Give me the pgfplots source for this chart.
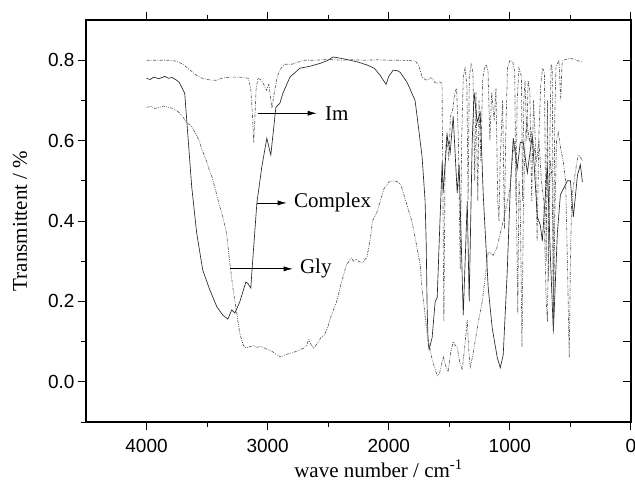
\documentclass[border=0pt]{standalone}
\usepackage{pgfplots}
\pgfplotsset{compat=1.18}
\usepackage{fontspec}
\setmainfont{Liberation Serif}
\setsansfont{Liberation Sans}
\usetikzlibrary{arrows.meta}
\begin{document}
\begin{tikzpicture}
\useasboundingbox (-86pt,-61pt) rectangle (549pt,422pt);
\pgfplotsset{
  imstyle/.style={black!65, line width=0.65pt, dash pattern=on 3pt off 1.4pt on 0.8pt off 1.4pt},
  glystyle/.style={black!65, line width=0.65pt, dash pattern=on 3pt off 1.2pt on 0.8pt off 1.2pt on 0.8pt off 1.2pt},
  cxstyle/.style={black!85, line width=0.65pt},
}
\begin{axis}[
  at={(0pt,0pt)}, anchor=south west,
  scale only axis, width=545pt, height=402pt,
  xmin=0, xmax=4500, x dir=reverse,
  ymin=-0.1, ymax=0.9,
  xtick={0,1000,2000,3000,4000},
  minor xtick={500,1500,2500,3500},
  ytick={0,0.2,0.4,0.6,0.8},
  minor ytick={-0.1,0.1,0.3,0.5,0.7},
  xtick pos=both, ytick pos=left,
  tick align=outside,
  major tick length=8pt, minor tick length=5pt,
  every tick/.style={black, line width=1pt},
  axis line style={line width=1.1pt},
  /pgf/number format/assume math mode=true,
  /pgf/number format/1000 sep={},
  yticklabel style={/pgf/number format/fixed, /pgf/number format/fixed zerofill, /pgf/number format/precision=1},
  xticklabel style={yshift=-6pt},
  tick label style={font=\fontsize{19}{22}\selectfont\sffamily},
  xlabel={wave number / cm\textsuperscript{-1}},
  ylabel={Transmittent / \%},
  label style={font=\fontsize{21}{25}\selectfont},
  xlabel style={xshift=20pt, yshift=0pt},
  ylabel style={yshift=14pt},
  clip=true,
]
% Im
\addplot[imstyle] coordinates {
(4000,0.800)(3900,0.800)(3800,0.800)(3750,0.797)(3700,0.790)(3650,0.778)(3600,0.765)(3550,0.756)(3500,0.752)(3450,0.750)(3420,0.750)(3380,0.755)(3340,0.757)(3300,0.758)(3250,0.758)(3200,0.757)(3160,0.755)(3140,0.730)(3125,0.660)(3115,0.595)(3105,0.660)(3095,0.730)(3080,0.755)(3060,0.752)(3040,0.745)(3010,0.725)(2990,0.740)(2965,0.680)(2945,0.720)(2920,0.760)(2890,0.780)(2860,0.790)(2800,0.790)(2750,0.795)(2700,0.800)(2600,0.800)(2500,0.802)(2400,0.800)(2300,0.801)(2200,0.800)(2100,0.801)(2000,0.800)(1900,0.800)(1820,0.799)(1780,0.798)
(1750,0.785)(1725,0.758)(1700,0.752)(1683,0.750)(1660,0.756)(1640,0.755)(1620,0.745)(1600,0.742)(1580,0.746)(1560,0.742)(1545,0.150)(1535,0.550)(1520,0.620)(1505,0.550)(1490,0.660)(1470,0.680)(1455,0.720)(1440,0.730)(1425,0.600)(1410,0.280)(1398,0.600)(1385,0.760)(1370,0.780)(1355,0.740)(1345,0.450)(1335,0.760)(1320,0.790)(1305,0.770)(1290,0.500)(1280,0.720)(1265,0.450)(1255,0.700)(1240,0.550)(1225,0.750)(1210,0.780)(1195,0.790)(1180,0.770)(1165,0.600)(1150,0.720)(1130,0.650)(1115,0.730)(1100,0.450)(1090,0.400)(1080,0.550)(1060,0.700)(1045,0.380)(1035,0.600)(1020,0.780)(1000,0.800)(975,0.795)(960,0.770)(950,0.450)(940,0.700)(925,0.780)(905,0.760)(895,0.450)(885,0.700)(875,0.750)(860,0.600)(850,0.750)(835,0.720)(820,0.450)(805,0.700)(790,0.600)(775,0.350)(760,0.620)(745,0.740)(730,0.780)(715,0.770)(700,0.300)(690,0.700)(680,0.250)(670,0.600)(660,0.790)(650,0.780)(640,0.150)(630,0.650)(620,0.780)(610,0.790)(595,0.800)(580,0.700)(570,0.790)(560,0.800)(500,0.805)(450,0.800)(400,0.795)
};
% Complex
\addplot[cxstyle] coordinates {
(4000,0.755)(3970,0.752)(3940,0.758)(3900,0.754)(3870,0.757)(3850,0.760)(3820,0.755)(3790,0.757)(3760,0.752)(3730,0.745)(3710,0.733)(3685,0.718)(3660,0.618)(3627,0.485)(3586,0.370)(3536,0.278)(3478,0.229)(3420,0.187)(3371,0.166)(3329,0.156)(3296,0.179)(3271,0.171)(3230,0.199)(3180,0.248)(3164,0.245)(3139,0.233)(3131,0.270)(3089,0.445)(3048,0.535)(3007,0.606)(2974,0.564)(2932,0.683)(2899,0.693)(2874,0.718)(2816,0.758)(2734,0.780)(2650,0.785)(2568,0.792)(2500,0.800)(2461,0.808)(2400,0.805)(2320,0.800)(2250,0.795)(2179,0.788)(2120,0.780)(2072,0.763)(2045,0.750)(2022,0.740)(2000,0.760)(1964,0.775)(1930,0.774)(1906,0.770)(1849,0.745)(1783,0.700)(1766,0.660)(1725,0.560)(1700,0.450)(1691,0.345)(1683,0.180)(1675,0.097)(1667,0.080)(1642,0.110)(1617,0.199)(1600,0.210)(1584,0.345)(1559,0.547)(1551,0.470)(1518,0.613)(1493,0.570)(1468,0.660)(1435,0.470)(1419,0.540)(1385,0.166)(1352,0.450)(1336,0.200)(1311,0.600)(1295,0.720)(1270,0.646)(1245,0.670)(1220,0.465)(1179,0.234)(1146,0.134)(1104,0.060)(1079,0.035)(1055,0.067)(1022,0.273)(997,0.480)(972,0.606)(939,0.530)(914,0.596)(889,0.594)(856,0.520)(815,0.613)(773,0.410)(749,0.390)(732,0.350)(691,0.540)(666,0.316)(641,0.124)(608,0.370)(583,0.465)(558,0.480)(525,0.500)(500,0.500)(476,0.410)(442,0.514)(418,0.540)(401,0.497)
};
% Gly
\addplot[glystyle] coordinates {
(4000,0.683)(3960,0.685)(3930,0.680)(3900,0.682)(3860,0.686)(3820,0.683)(3780,0.680)(3740,0.672)(3710,0.663)(3680,0.650)(3660,0.643)(3630,0.636)(3600,0.620)(3565,0.600)(3540,0.575)(3508,0.552)(3480,0.525)(3460,0.510)(3420,0.465)(3400,0.440)(3370,0.410)(3340,0.370)(3314,0.300)(3290,0.240)(3260,0.180)(3230,0.120)(3200,0.090)(3180,0.084)(3150,0.087)(3120,0.090)(3090,0.086)(3050,0.088)(3000,0.080)(2960,0.075)(2920,0.066)(2890,0.062)(2850,0.068)(2800,0.072)(2750,0.077)(2700,0.084)(2680,0.090)(2660,0.105)(2640,0.092)(2620,0.084)(2590,0.095)(2560,0.110)(2530,0.117)(2500,0.140)(2480,0.160)(2430,0.200)(2390,0.248)(2350,0.290)(2310,0.308)(2290,0.300)(2270,0.305)(2250,0.300)(2220,0.296)(2180,0.310)(2150,0.360)(2135,0.400)(2100,0.420)(2040,0.480)(2000,0.497)(1960,0.500)(1930,0.498)(1900,0.490)(1880,0.470)(1850,0.440)(1810,0.400)(1783,0.360)(1740,0.290)(1725,0.230)(1683,0.120)(1642,0.055)(1600,0.015)(1580,0.022)(1550,0.062)(1530,0.040)(1510,0.025)(1490,0.070)(1468,0.100)(1450,0.090)(1435,0.087)(1415,0.050)(1394,0.030)(1375,0.080)(1352,0.154)(1340,0.080)(1327,0.037)(1310,0.060)(1287,0.100)(1260,0.150)(1228,0.200)(1200,0.270)(1179,0.323)(1160,0.320)(1137,0.315)(1110,0.330)(1096,0.348)(1063,0.390)(1040,0.420)(1022,0.447)(1000,0.480)(980,0.550)(965,0.600)(950,0.550)(935,0.170)(925,0.500)(915,0.450)(900,0.087)(890,0.400)(875,0.600)(860,0.650)(840,0.600)(820,0.620)(800,0.580)(780,0.550)(760,0.600)(740,0.500)(720,0.450)(700,0.200)(690,0.150)(680,0.400)(665,0.550)(650,0.500)(640,0.120)(630,0.400)(615,0.600)(600,0.620)(580,0.580)(560,0.550)(540,0.500)(525,0.300)(510,0.060)(500,0.300)(490,0.450)(470,0.500)(450,0.540)(435,0.564)(420,0.560)(400,0.550)
};
\draw[line width=0.7pt, -{Latex[length=9pt,width=5pt]}] (axis cs:3083,0.668) -- (axis cs:2595,0.668) node[anchor=west, xshift=7pt, font=\fontsize{21}{25}\selectfont, inner sep=1pt] {Im};
\draw[line width=0.7pt, -{Latex[length=9pt,width=5pt]}] (axis cs:3091,0.445) -- (axis cs:2843,0.445) node[anchor=west, xshift=6pt, font=\fontsize{21}{25}\selectfont, inner sep=1pt] {Complex};
\draw[line width=0.7pt, -{Latex[length=9pt,width=5pt]}] (axis cs:3314,0.281) -- (axis cs:2793,0.281) node[anchor=west, xshift=6pt, font=\fontsize{21}{25}\selectfont, inner sep=1pt] {Gly};
\end{axis}
\begin{axis}[
  at={(0pt,0pt)}, anchor=south west,
  scale only axis, width=545pt, height=402pt,
  xmin=0, xmax=4500, x dir=reverse,
  ymin=-0.1, ymax=0.9,
  hide x axis,
  ytick={-0.1,0,0.1,0.2,0.3,0.4,0.5,0.6,0.7,0.8,0.9},
  ytick pos=right, tick align=inside,
  major tick length=8pt,
  every tick/.style={black, line width=1pt},
  axis line style={line width=1.1pt},
  yticklabels={},
]
\end{axis}
\end{tikzpicture}
\end{document}
